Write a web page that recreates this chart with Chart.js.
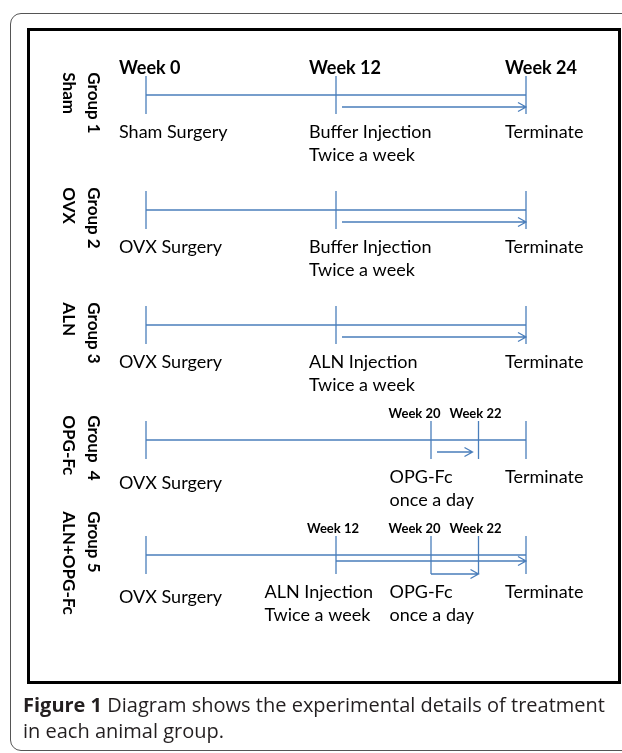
<!DOCTYPE html>
<html>
<head>
<meta charset="utf-8">
<script src="https://cdn.jsdelivr.net/npm/chart.js@4.4.1/dist/chart.umd.min.js"></script>
<style>
  body { margin: 0; background: #fff; }
  #page { position: relative; width: 622px; height: 753px; overflow: hidden; }
  #outer { position: absolute; left: 10px; top: 13px; width: 720px; height: 736px;
           border: 1.5px solid #555; border-radius: 11px; }
  #inner { position: absolute; left: 27px; top: 28px; width: 588px; height: 650px;
           border: 3px solid #000; }
  #wrap { position: absolute; left: 0; top: 0; width: 622px; height: 753px; }
  #caption { position: absolute; left: 23px; top: 692px; width: 600px;
             font: 20px 'Open Sans', sans-serif; line-height: 26px; color: #231f20; }
</style>
</head>
<body>
<div id="page">
  <div id="outer"></div>
  <div id="inner"></div>
  <div id="wrap"><canvas id="timeline"></canvas></div>
  <div id="caption"><b>Figure 1</b> Diagram shows the experimental details of treatment in each animal group.</div>
</div>
<script>
// groups
const groupTitles = ['Group 1', 'Group 2', 'Group 3', 'Group  4', 'Group 5'];
const groupNames = ['Sham', 'OVX', 'ALN', 'OPG-Fc', 'ALN+OPG-Fc'];

// weeks marked on each group's timeline
const milestoneWeeks = [
  [0, 12, 24],
  [0, 12, 24],
  [0, 12, 24],
  [0, 20, 22, 24],
  [0, 12, 20, 22, 24]
];

// week labels printed above a timeline (big ones on the first, small ones later)
const headerWeeks = [[0, 12, 24], [], [], [20, 22], [12, 20, 22]];

// treatment periods: [group, start week, end week]
const treatments = [
  [1, 12, 24],
  [2, 12, 24],
  [3, 12, 24],
  [4, 20, 22],
  [5, 12, 24],
  [5, 20, 22]
];

// events under each timeline: [week, line 1, line 2]
const events = [
  [[0, 'Sham Surgery', ''], [12, 'Buffer Injection', 'Twice a week'], [24, 'Terminate', '']],
  [[0, 'OVX Surgery', ''], [12, 'Buffer Injection', 'Twice a week'], [24, 'Terminate', '']],
  [[0, 'OVX Surgery', ''], [12, 'ALN Injection', 'Twice a week'], [24, 'Terminate', '']],
  [[0, 'OVX Surgery', ''], [20, 'OPG-Fc', 'once a day'], [24, 'Terminate', '']],
  [[0, 'OVX Surgery', ''], [12, 'ALN Injection', 'Twice a week'], [20, 'OPG-Fc', 'once a day'], [24, 'Terminate', '']]
];

// the drawing is not to scale: later weeks are spread out
const axisBreaks = [[0, 0], [12, 12], [20, 18], [22, 21], [24, 24]];

function toAxis(w) {
  for (let i = 1; i < axisBreaks.length; i++) {
    const [w0, a0] = axisBreaks[i - 1];
    const [w1, a1] = axisBreaks[i];
    if (w <= w1) return a0 + (w - w0) * (a1 - a0) / (w1 - w0);
  }
  return axisBreaks[axisBreaks.length - 1][1];
}

class SchematicScale extends Chart.LinearScale {
  getPixelForValue(value) {
    return super.getPixelForValue(toAxis(value));
  }
}
SchematicScale.id = 'schematic';
SchematicScale.defaults = Chart.LinearScale.defaults;
Chart.register(SchematicScale);

const BLUE = '#4a7ebb';
const FONT = 'Lato, sans-serif';
// the surgery label sits a little lower in the last two groups
const firstLabelDrop = [0, 0, 0, 6, 5];

const lineSets = groupTitles.map((t, i) => ({
  type: 'line',
  data: [{x: 0, y: i + 1}, {x: 24, y: i + 1}],
  borderColor: BLUE,
  borderWidth: 1.3,
  pointRadius: 0,
  clip: false
}));

const tickPoints = [];
milestoneWeeks.forEach((weeks, i) => weeks.forEach(w => tickPoints.push({x: w, y: i + 1})));

const tickSet = {
  type: 'scatter',
  data: tickPoints,
  pointStyle: 'line',
  rotation: 90,
  radius: 19,
  borderColor: BLUE,
  borderWidth: 1.3,
  clip: false
};

const timelinePlugin = {
  id: 'timelineText',
  afterDatasetsDraw(chart) {
    const ctx = chart.ctx;
    const x = chart.scales.x;
    const y = chart.scales.y;
    ctx.save();

    // arrows
    const perGroup = {};
    treatments.forEach(([g]) => { perGroup[g] = (perGroup[g] || 0) + 1; });
    const laneIdx = {};
    treatments.forEach(([g, from, to]) => {
      const lane = laneIdx[g] || 0;
      laneIdx[g] = lane + 1;
      const off = perGroup[g] > 1 ? 6 + 13 * lane : 12;
      const yy = y.getPixelForValue(g) + off;
      const x0 = x.getPixelForValue(from) + (perGroup[g] > 1 ? 0 : 6);
      const x1 = x.getPixelForValue(to) - (to < 24 && perGroup[g] === 1 ? 6 : 0);
      ctx.strokeStyle = BLUE;
      ctx.lineWidth = 1.3;
      ctx.beginPath();
      ctx.moveTo(x0, yy);
      ctx.lineTo(x1, yy);
      ctx.moveTo(x1 - 8, yy - 4.5);
      ctx.lineTo(x1, yy);
      ctx.lineTo(x1 - 8, yy + 4.5);
      ctx.stroke();
    });

    ctx.fillStyle = '#000';
    ctx.textBaseline = 'middle';

    // week labels above
    headerWeeks.forEach((weeks, i) => {
      const yy = y.getPixelForValue(i + 1);
      if (i === 0) {
        ctx.font = 'bold 18px ' + FONT;
        ctx.textAlign = 'left';
        weeks.forEach(w => {
          ctx.fillText('Week ' + w, x.getPixelForValue(w) - (w === 24 ? 21 : 27), yy - 27);
        });
        return;
      }
      ctx.font = 'bold 13px ' + FONT;
      ctx.textAlign = 'center';
      const texts = weeks.map(w => 'Week ' + w);
      const widths = texts.map(s => ctx.measureText(s).width);
      const centers = weeks.map(w => x.getPixelForValue(w) - 3);
      // push crowded labels to the left
      for (let j = centers.length - 2; j >= 0; j--) {
        const limit = centers[j + 1] - widths[j + 1] / 2 - 9 - widths[j] / 2;
        if (centers[j] > limit) centers[j] = limit;
      }
      texts.forEach((s, j) => ctx.fillText(s, centers[j], yy - 26));
    });

    // event labels below
    ctx.font = '18px ' + FONT;
    ctx.textAlign = 'left';
    events.forEach((list, i) => {
      const yy = y.getPixelForValue(i + 1);
      const lefts = list.map(([w]) => x.getPixelForValue(w) - (w === 24 ? 21 : 27));
      list.forEach(([w, a, b], j) => {
        let left = lefts[j];
        const width = Math.max(ctx.measureText(a).width, ctx.measureText(b).width);
        if (j < list.length - 1 && left + width > lefts[j + 1] - 25) {
          left = lefts[j + 1] - 31 - width;
        }
        const drop = j === 0 ? firstLabelDrop[i] : 0;
        ctx.fillText(a, left, yy + 37 + drop);
        if (b) ctx.fillText(b, left, yy + 60);
      });
    });

    // rotated group labels on the left
    ctx.font = 'bold 17px ' + FONT;
    groupTitles.forEach((t, i) => {
      const yy = y.getPixelForValue(i + 1);
      const len = Math.max(ctx.measureText(t).width, ctx.measureText(groupNames[i]).width);
      const top = yy + 8 - len / 2;
      [[t, 93], [groupNames[i], 68]].forEach(([s, cx]) => {
        ctx.save();
        ctx.translate(cx, top);
        ctx.rotate(Math.PI / 2);
        ctx.textAlign = 'left';
        ctx.fillText(s, 0, 0);
        ctx.restore();
      });
    });

    ctx.restore();
  }
};

new Chart(document.getElementById('timeline'), {
  data: {
    datasets: [...lineSets, tickSet]
  },
  options: {
    responsive: true,
    maintainAspectRatio: false,
    animation: false,
    events: [],
    layout: { padding: { left: 146, right: 96, top: 95, bottom: 198 } },
    plugins: { legend: { display: false }, tooltip: { enabled: false } },
    scales: {
      x: { type: 'schematic', min: 0, max: 24, display: false },
      y: { type: 'linear', min: 1, max: 5, reverse: true, display: false }
    }
  },
  plugins: [timelinePlugin]
});
</script>
</body>
</html>
